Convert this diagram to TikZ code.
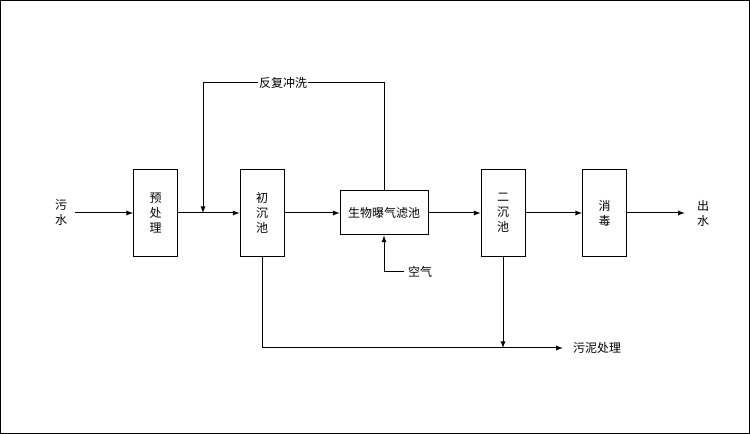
\documentclass[tikz,border=0pt]{standalone}
\usepackage{fontspec}
\setmainfont{Noto Sans CJK SC}
\usetikzlibrary{arrows,positioning}
\tikzstyle{unit}=[draw,line width=0.75pt,align=center,inner sep=0pt,minimum width=33pt,minimum height=65.25pt]
\tikzstyle{wide}=[unit,minimum width=66pt,minimum height=33pt]
\tikzstyle{lbl}=[align=center,inner sep=6pt]
\tikzstyle{flow}=[->,line width=0.75pt]

\begin{document}
\begin{tikzpicture}[x=0.75pt,y=-0.75pt,>=latex,
    every node/.style={font=\fontsize{9}{11.25}\selectfont}]
  \useasboundingbox (0,0) rectangle (750,434);
  \draw[line width=1.1pt] (0.75,0.75) rectangle (749.25,433.25);
  % process units
  \node[unit] (pre)  at (155.5,213) {预\\处\\理};
  \node[unit] (prim) at (262,213)   {初\\沉\\池};
  \node[wide] (baf)  at (384,213)   {生物曝气滤池};
  \node[unit] (sec)  at (503,213)   {二\\沉\\池};
  \node[unit] (dis)  at (604.5,213) {消\\毒};
  % inputs and outputs
  \node[lbl] (raw) at (61,213) {污\\水};
  \node[lbl,inner sep=9pt] (out) at (703,213) {出\\水};
  \node[lbl,inner sep=3pt] (air) at (420,272) {空气};
  \node[lbl,inner sep=7.5pt] (sludge) at (597,348) {污泥处理};
  \coordinate (join) at (203,213);
  \coordinate (top) at (203,83);
  % main line
  \draw[flow] (raw) -- (pre);
  \draw[flow] (pre) -- (prim);
  \draw[flow] (prim) -- (baf);
  \draw[flow] (baf) -- (sec);
  \draw[flow] (sec) -- (dis);
  \draw[flow] (dis) -- (out);
  % backwash
  \draw[flow] (baf.north) |- (top) -- (join);
  \node[fill=white,inner sep=1pt] (wash) at (283,83) {反复冲洗};
  % air and sludge
  \draw[flow] (air.west) -| (baf.south);
  \draw[flow] (prim.south) |- (sludge.west);
  \draw[flow] (sec.south) -- (sec.south |- sludge.west);
\end{tikzpicture}
\end{document}
